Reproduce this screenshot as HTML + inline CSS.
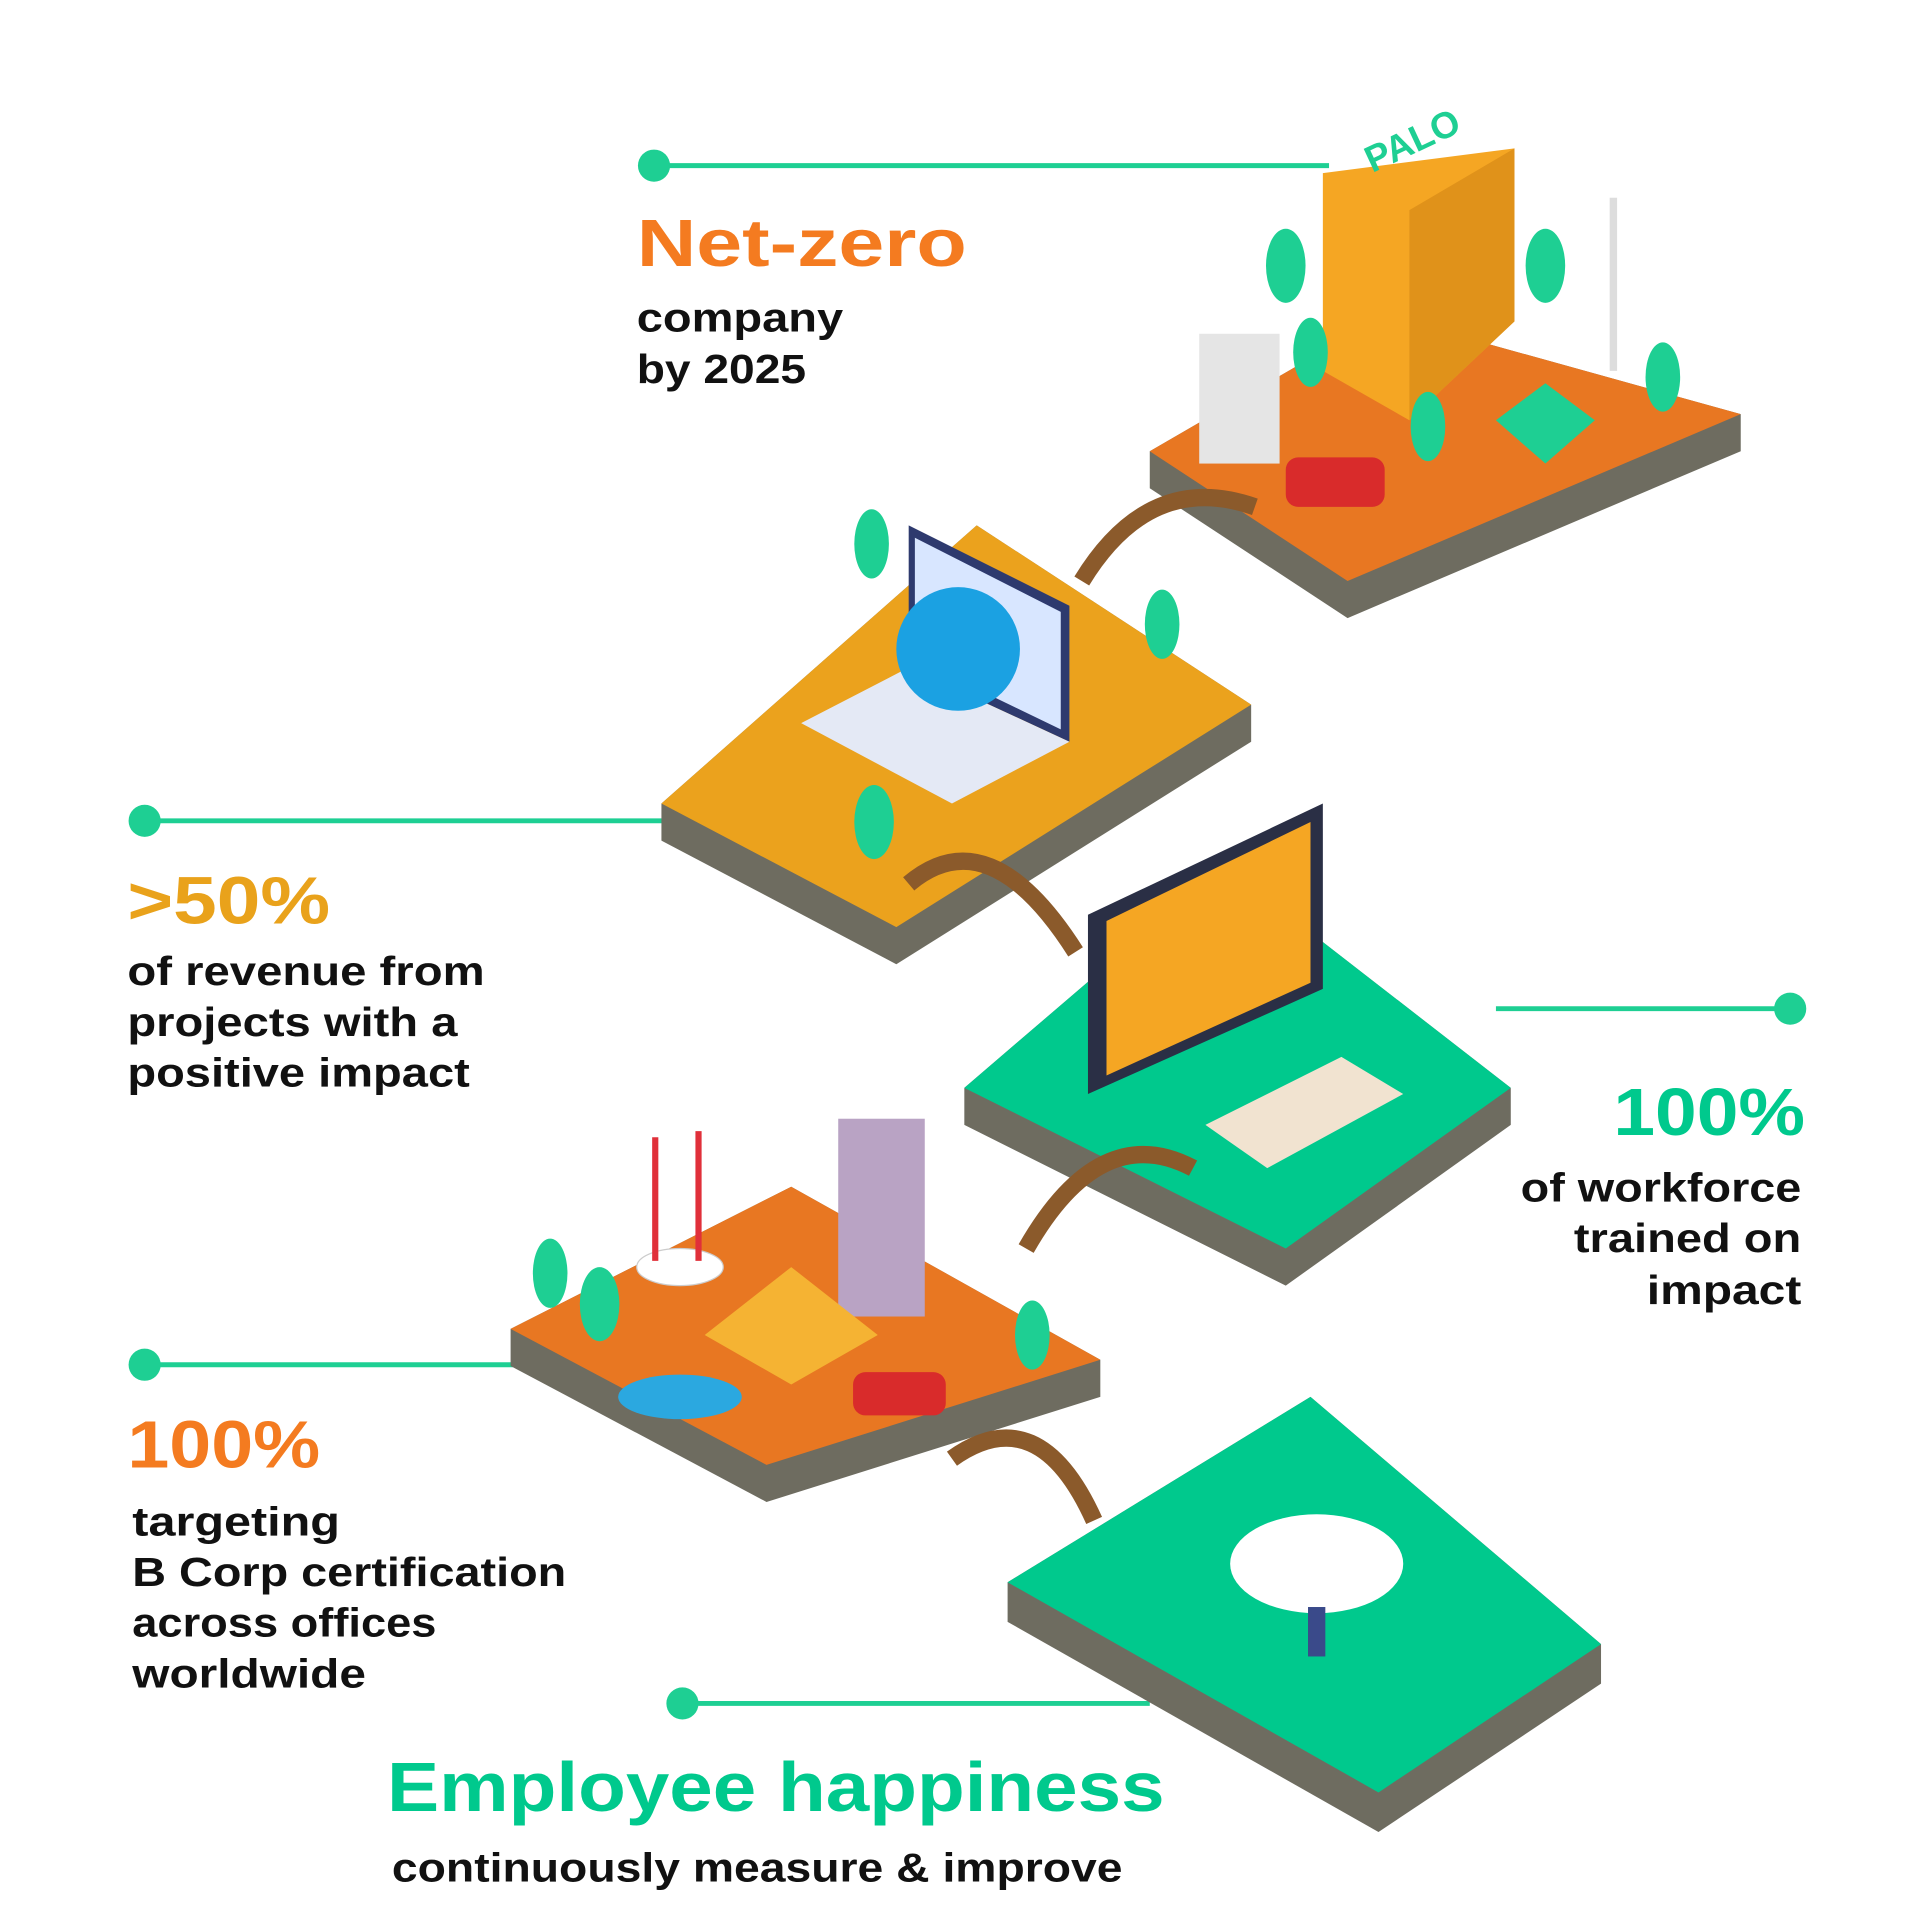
<!DOCTYPE html>
<html><head><meta charset="utf-8"><style>
html,body{margin:0;padding:0;background:#fff}
svg{display:block}
text{font-family:"Liberation Sans",sans-serif;font-weight:bold}
</style></head><body>
<svg width="1920" height="1921" viewBox="0 0 1553 1554" preserveAspectRatio="none" xmlns="http://www.w3.org/2000/svg">
<rect width="1553" height="1554" fill="#fff"/>
<g stroke="#1ECF93" stroke-width="4" fill="#1ECF93">
<line x1="529" y1="134" x2="1075" y2="134"/><circle cx="529" cy="134" r="13" stroke="none"/>
<line x1="117" y1="664" x2="540" y2="664"/><circle cx="117" cy="664" r="13" stroke="none"/>
<line x1="1210" y1="816" x2="1448" y2="816"/><circle cx="1448" cy="816" r="13" stroke="none"/>
<line x1="117" y1="1104" x2="415" y2="1104"/><circle cx="117" cy="1104" r="13" stroke="none"/>
<line x1="552" y1="1378" x2="930" y2="1378"/><circle cx="552" cy="1378" r="13" stroke="none"/>
</g>
<g>
<polygon points="930,365 1120,255 1408,335 1408,365 1090,500 930,395" fill="#6E6C60"/>
<polygon points="930,365 1120,255 1408,335 1090,470" fill="#E87722"/>
<polygon points="535,650 790,425 1012,570 1012,600 725,780 535,680" fill="#6E6C60"/>
<polygon points="535,650 790,425 1012,570 725,750" fill="#EBA21D"/>
<polygon points="780,880 990,700 1222,880 1222,910 1040,1040 780,910" fill="#6E6C60"/>
<polygon points="780,880 990,700 1222,880 1040,1010" fill="#00C98D"/>
<polygon points="413,1075 640,960 890,1100 890,1130 620,1215 413,1105" fill="#6E6C60"/>
<polygon points="413,1075 640,960 890,1100 620,1185" fill="#E87722"/>
<polygon points="815,1280 1060,1130 1295,1330 1295,1362 1115,1482 815,1312" fill="#6E6C60"/>
<polygon points="815,1280 1060,1130 1295,1330 1115,1450" fill="#00C98D"/>
</g>
<g fill="none" stroke="#8B5A2B" stroke-width="14">
<path d="M875,470 Q930,380 1015,410"/>
<path d="M735,715 Q800,660 870,770"/>
<path d="M830,1010 Q890,905 965,945"/>
<path d="M770,1180 Q840,1130 885,1230"/>
</g>
<polygon points="1070,140 1225,120 1225,260 1140,340 1070,300" fill="#F5A623"/>
<polygon points="1140,170 1225,120 1225,260 1140,340" fill="#E0921A"/>
<text x="1110" y="140" fill="#1ECF93" font-size="30" transform="rotate(-25 1110 140)">PALO</text>
<rect x="970" y="270" width="65" height="105" fill="#E5E5E5"/>
<polygon points="1210,340 1250,310 1290,340 1250,375" fill="#1ECF93"/>
<rect x="1040" y="370" width="80" height="40" rx="10" fill="#D92B2B"/>
<line x1="1305" y1="160" x2="1305" y2="300" stroke="#ddd" stroke-width="6"/>
<polygon points="735,425 865,490 865,600 735,540" fill="#2E3A6E"/>
<polygon points="740,435 858,495 858,590 740,533" fill="#D8E6FF"/>
<polygon points="648,585 735,540 865,600 770,650" fill="#E4E9F5"/>
<circle cx="775" cy="525" r="50" fill="#1BA1E2"/>
<polygon points="880,740 1070,650 1070,800 880,885" fill="#2A2F45"/>
<polygon points="895,745 1060,665 1060,795 895,870" fill="#F5A623"/>
<polygon points="975,910 1085,855 1135,885 1025,945" fill="#F1E3D0"/>
<rect x="678" y="905" width="70" height="160" fill="#B9A3C4"/>
<polygon points="570,1080 640,1025 710,1080 640,1120" fill="#F5B333"/>
<ellipse cx="550" cy="1025" rx="35" ry="15" fill="#fff" stroke="#ccc"/>
<line x1="530" y1="920" x2="530" y2="1020" stroke="#E0303A" stroke-width="5"/>
<line x1="565" y1="915" x2="565" y2="1020" stroke="#E0303A" stroke-width="5"/>
<ellipse cx="550" cy="1130" rx="50" ry="18" fill="#2BA8E0"/>
<rect x="690" y="1110" width="75" height="35" rx="10" fill="#D92B2B"/>
<ellipse cx="1065" cy="1265" rx="70" ry="40" fill="#fff"/>
<rect x="1058" y="1300" width="14" height="40" fill="#3A4A8A"/>
<g fill="#1ECF93">
<ellipse cx="1040" cy="215" rx="16" ry="30"/><ellipse cx="1250" cy="215" rx="16" ry="30"/>
<ellipse cx="1060" cy="285" rx="14" ry="28"/><ellipse cx="1345" cy="305" rx="14" ry="28"/>
<ellipse cx="1155" cy="345" rx="14" ry="28"/><ellipse cx="705" cy="440" rx="14" ry="28"/>
<ellipse cx="940" cy="505" rx="14" ry="28"/><ellipse cx="707" cy="665" rx="16" ry="30"/>
<ellipse cx="445" cy="1030" rx="14" ry="28"/><ellipse cx="485" cy="1055" rx="16" ry="30"/>
<ellipse cx="835" cy="1080" rx="14" ry="28"/>
</g>
<g lengthAdjust="spacingAndGlyphs">
<text x="515" y="215" fill="#F47B20" font-size="54" textLength="267" lengthAdjust="spacingAndGlyphs">Net-zero</text>
<text x="515" y="268" fill="#111" font-size="33" textLength="167" lengthAdjust="spacingAndGlyphs">company</text>
<text x="515" y="310" fill="#111" font-size="33" textLength="137" lengthAdjust="spacingAndGlyphs">by 2025</text>
<text x="103" y="747" fill="#E9A21B" font-size="54" textLength="164" lengthAdjust="spacingAndGlyphs">&gt;50%</text>
<text x="103" y="797" fill="#111" font-size="33" textLength="289" lengthAdjust="spacingAndGlyphs">of revenue from</text>
<text x="103" y="838" fill="#111" font-size="33" textLength="267" lengthAdjust="spacingAndGlyphs">projects with a</text>
<text x="103" y="879" fill="#111" font-size="33" textLength="277" lengthAdjust="spacingAndGlyphs">positive impact</text>
<text x="1305" y="918" fill="#00C98D" font-size="54" textLength="155" lengthAdjust="spacingAndGlyphs">100%</text>
<text x="1230" y="972" fill="#111" font-size="33" textLength="227" lengthAdjust="spacingAndGlyphs">of workforce</text>
<text x="1273" y="1013" fill="#111" font-size="33" textLength="184" lengthAdjust="spacingAndGlyphs">trained on</text>
<text x="1332" y="1055" fill="#111" font-size="33" textLength="125" lengthAdjust="spacingAndGlyphs">impact</text>
<text x="103" y="1187" fill="#F47B20" font-size="54" textLength="156" lengthAdjust="spacingAndGlyphs">100%</text>
<text x="107" y="1242" fill="#111" font-size="33" textLength="168" lengthAdjust="spacingAndGlyphs">targeting</text>
<text x="107" y="1283" fill="#111" font-size="33" textLength="351" lengthAdjust="spacingAndGlyphs">B Corp certification</text>
<text x="107" y="1324" fill="#111" font-size="33" textLength="246" lengthAdjust="spacingAndGlyphs">across offices</text>
<text x="107" y="1365" fill="#111" font-size="33" textLength="189" lengthAdjust="spacingAndGlyphs">worldwide</text>
<text x="313" y="1465" fill="#00C98D" font-size="56" textLength="629" lengthAdjust="spacingAndGlyphs">Employee happiness</text>
<text x="317" y="1522" fill="#111" font-size="33" textLength="591" lengthAdjust="spacingAndGlyphs">continuously measure &amp; improve</text>
</g>
</svg>
</body></html>
